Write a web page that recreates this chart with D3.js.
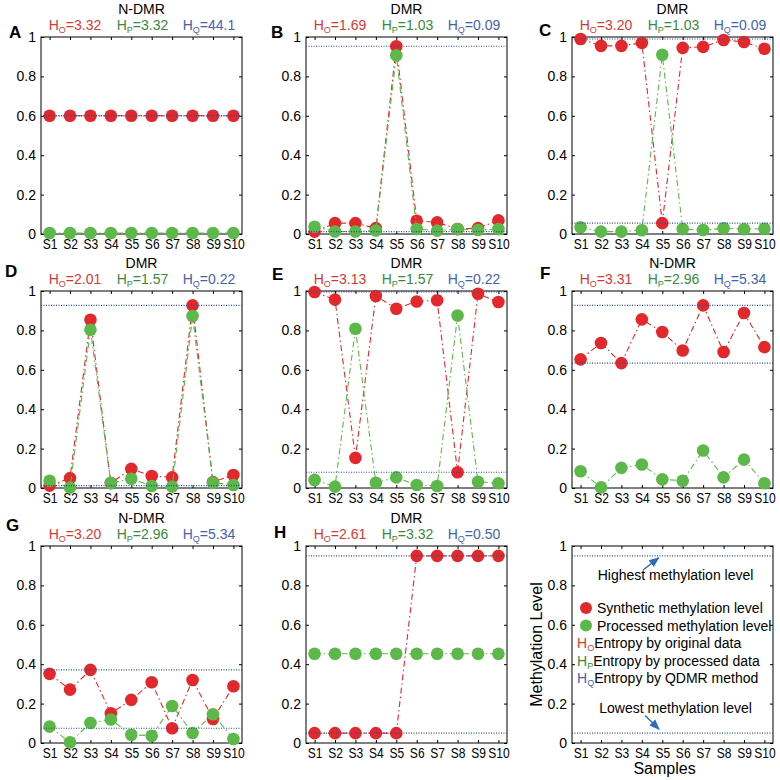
<!DOCTYPE html>
<html><head><meta charset="utf-8">
<script src="https://cdn.jsdelivr.net/npm/d3@7"></script>
<style>body{margin:0;background:#fff} svg{display:block;font-family:"Liberation Sans",Arial,sans-serif}</style>
</head><body><svg id="c" width="780" height="780"></svg>
<script>
// ---------- data ----------
const samples = ["S1","S2","S3","S4","S5","S6","S7","S8","S9","S10"];
const yTicks = [0, 0.2, 0.4, 0.6, 0.8, 1];
const letters = ["A","B","C","D","E","F","G","H"];
const titles = ["N-DMR","DMR","DMR","DMR","DMR","N-DMR","N-DMR","DMR"];
const hO = ["3.32","1.69","3.20","2.01","3.13","3.31","3.20","2.61"];
const hP = ["3.32","1.03","1.03","1.57","1.57","2.96","2.96","3.32"];
const hQ = ["44.1","0.09","0.09","0.22","0.22","5.34","5.34","0.50"];

const synthA = [0.6,0.6,0.6,0.6,0.6,0.6,0.6,0.6,0.6,0.6];
const procA  = [0.005,0.005,0.005,0.005,0.005,0.005,0.005,0.005,0.005,0.005];
const synthB = [0.012,0.055,0.055,0.03,0.953,0.067,0.059,0.025,0.03,0.069];
const procB  = [0.037,0.013,0.013,0.018,0.907,0.025,0.017,0.025,0.02,0.025];
const synthC = [0.99,0.955,0.955,0.97,0.055,0.945,0.95,0.985,0.975,0.94];
const procC  = [0.034,0.012,0.012,0.019,0.91,0.025,0.02,0.029,0.024,0.027];
const synthD = [0.012,0.05,0.854,0.025,0.097,0.061,0.054,0.927,0.03,0.066];
const procD  = [0.037,0.002,0.803,0.025,0.047,0.01,0.007,0.873,0.027,0.015];
const synthE = [0.995,0.956,0.153,0.975,0.91,0.947,0.953,0.08,0.986,0.944];
const procE  = [0.041,0.007,0.808,0.027,0.054,0.015,0.01,0.876,0.032,0.024];
const synthF = [0.653,0.736,0.634,0.856,0.792,0.698,0.927,0.69,0.888,0.715];
const procF  = [0.085,0.003,0.102,0.119,0.044,0.037,0.19,0.054,0.144,0.024];
const synthG = [0.351,0.271,0.371,0.151,0.219,0.308,0.075,0.32,0.122,0.288];
const procG  = [0.083,0.003,0.102,0.119,0.042,0.037,0.188,0.051,0.146,0.02];
const synthH = [0.05,0.05,0.05,0.05,0.05,0.95,0.95,0.95,0.95,0.95];
const procH  = [0.453,0.453,0.453,0.453,0.453,0.453,0.453,0.453,0.453,0.453];

const synthetic = [synthA,synthB,synthC,synthD,synthE,synthF,synthG,synthH];
const processed = [procA,procB,procC,procD,procE,procF,procG,procH];

const legendLevels = [0.95, 0.05];
const legendSeries = ["Synthetic methylation level","Processed methylation level"];
const entropySubs = ["O","P","Q"];
const entropyTexts = ["Entropy by original data","Entropy by processed data","Entropy by QDMR method"];
const levelNotes = ["Highest methylation level","Lowest methylation level"];

// ---------- style ----------
const RED = "#e2282a", GREEN = "#5cb848", BLUE = "#2b4ea6";
const TXT_RED = "#d43a34", TXT_GREEN = "#3a8a40", TXT_BLUE = "#4563ad";
const colX = [41, 306, 572], rowY = [37, 291, 546];
const W = 201, H = 197;
const letterPos = [[9,38],[271,38],[539,36],[5,277],[272,280],[540,279],[6,531],[274,538]];

const svg = d3.select("#c");
const x = d3.scaleLinear().domain([0.58, 10.42]).range([0, W]);
const y = d3.scaleLinear().domain([0, 1]).range([H, 0]);
const idx = samples.map((s,i)=>i+1);

function frame(g) {
  const ax = g.append("g").attr("transform", `translate(0,${H})`)
    .call(d3.axisBottom(x).tickValues(idx).tickFormat((d,i)=>samples[i]).tickSizeInner(-3).tickSizeOuter(0).tickPadding(5));
  const ay = g.append("g")
    .call(d3.axisLeft(y).tickValues(yTicks).tickFormat(d=>d===0||d===1?String(d):d.toFixed(1)).tickSizeInner(-3).tickSizeOuter(0).tickPadding(5));
  const at = g.append("g").call(d3.axisTop(x).tickValues(idx).tickFormat("").tickSizeInner(-3).tickSizeOuter(0));
  const ar = g.append("g").attr("transform", `translate(${W},0)`).call(d3.axisRight(y).tickValues(yTicks).tickFormat("").tickSizeInner(-3).tickSizeOuter(0));
  [ax,ay,at,ar].forEach(a=>{ a.select(".domain").remove(); a.selectAll("line").attr("stroke","#000"); a.selectAll("text").attr("fill","#000").style("font-size","14px").style("font-family",'"Liberation Sans",Arial,sans-serif'); });
  ax.selectAll("text").attr("dy","0.71em").attr("transform","scale(0.86,1)");
  g.append("rect").attr("width",W).attr("height",H).attr("fill","none").attr("stroke","#000").attr("stroke-width",1);
}

function hlabel(g, cx, sub, val, color) {
  const t = g.append("text").attr("x",cx).attr("y",-7).attr("text-anchor","middle").attr("fill",color).style("font-size","14px");
  t.append("tspan").text("H");
  t.append("tspan").text(sub).style("font-size","9px").attr("dy",3);
  t.append("tspan").text("=" + val).attr("dy",-3);
}

const line = d3.line().x((d,i)=>x(i+1)).y(d=>y(d));

for (let p = 0; p < 8; p++) {
  const gx = colX[p % 3], gy = rowY[Math.floor(p / 3)];
  const g = svg.append("g").attr("transform", `translate(${gx},${gy})`);
  frame(g);
  g.append("text").attr("x", W/2).attr("y", -23).attr("text-anchor","middle").style("font-size","14px").text(titles[p]);
  hlabel(g, 34, "O", hO[p], TXT_RED);
  hlabel(g, 101.5, "P", hP[p], TXT_GREEN);
  hlabel(g, 168, "Q", hQ[p], TXT_BLUE);
  svg.append("text").attr("x", letterPos[p][0]).attr("y", letterPos[p][1]).style("font-size","17px").style("font-weight","bold").text(letters[p]);

  const series = [[synthetic[p], RED], [processed[p], GREEN]];
  series.forEach(([vals, col]) => {
    g.append("path").datum(vals).attr("d", line).attr("fill","none").attr("stroke", col).attr("stroke-width",1.1).attr("stroke-dasharray","6,3,1.5,3");
    g.selectAll(null).data(vals).enter().append("circle")
      .attr("cx",(d,i)=>x(i+1)).attr("cy",d=>y(d)).attr("r",6.3).attr("fill",col);
  });
  const ext = d3.extent(synthetic[p]);
  g.selectAll(null).data([ext[1], ext[0]]).enter().append("line")
    .attr("x1",0).attr("x2",W).attr("y1",d=>y(d)).attr("y2",d=>y(d))
    .attr("stroke",BLUE).attr("stroke-width",1.1).attr("stroke-dasharray","1,1.5");
}

// ---------- legend panel ----------
{
  const gx = colX[2], gy = rowY[2];
  const g = svg.append("g").attr("transform", `translate(${gx},${gy})`);
  const defs = svg.append("defs");
  defs.append("clipPath").attr("id","lgclip").append("rect").attr("width",W).attr("height",H);
  frame(g);
  g.selectAll(null).data(legendLevels).enter().append("line")
    .attr("x1",0).attr("x2",W).attr("y1",d=>y(d)).attr("y2",d=>y(d))
    .attr("stroke",BLUE).attr("stroke-width",1.1).attr("stroke-dasharray","1,1.5");
  g.append("text").attr("transform",`translate(-30,${H/2}) rotate(-90)`).attr("text-anchor","middle").style("font-size","16px").text("Methylation Level");
  g.append("text").attr("x",W/2 - 8).attr("y",H + 31).attr("text-anchor","middle").style("font-size","16px").text("Samples");

  const cg = g.append("g").attr("clip-path","url(#lgclip)");
  const noteY = [0.828, 0.152];
  const arrowFrom = [[4.06, 0.878], [4.16, 0.14]];
  const arrowTo = [[4.82, 0.94], [4.84, 0.07]];
  defs.append("marker").attr("id","arr").attr("viewBox","0 0 10 10").attr("refX",9).attr("refY",5)
    .attr("markerWidth",7).attr("markerHeight",7).attr("orient","auto")
    .append("path").attr("d","M0,1 L10,5 L0,9 z").attr("fill","#2f6cb5");
  levelNotes.forEach((t,i)=>{
    cg.append("text").attr("x", x(5.65)).attr("y", y(noteY[i])).attr("text-anchor","middle").style("font-size","14px").text(t);
    g.append("line").attr("x1",x(arrowFrom[i][0])).attr("y1",y(arrowFrom[i][1])).attr("x2",x(arrowTo[i][0])).attr("y2",y(arrowTo[i][1]))
      .attr("stroke","#2f6cb5").attr("stroke-width",1.5).attr("marker-end","url(#arr)");
  });
  const legCols = [RED, GREEN];
  legendSeries.forEach((t,i)=>{
    const yy = 62 + i*17.5;
    cg.append("circle").attr("cx",14).attr("cy",yy).attr("r",6).attr("fill",legCols[i]);
    cg.append("text").attr("x",25).attr("y",yy+5).style("font-size","14px").text(t);
  });
  const entCols = [TXT_RED, TXT_GREEN, TXT_BLUE];
  entropyTexts.forEach((t,i)=>{
    const yy = 102 + i*17.5;
    const tx = cg.append("text").attr("x",5).attr("y",yy).style("font-size","14px");
    tx.append("tspan").text("H").attr("fill",entCols[i]);
    tx.append("tspan").text(entropySubs[i]).attr("fill",entCols[i]).style("font-size","9px").attr("dy",3);
    tx.append("tspan").text(t).attr("dy",-3).attr("fill","#000");
  });
}
</script></body></html>
